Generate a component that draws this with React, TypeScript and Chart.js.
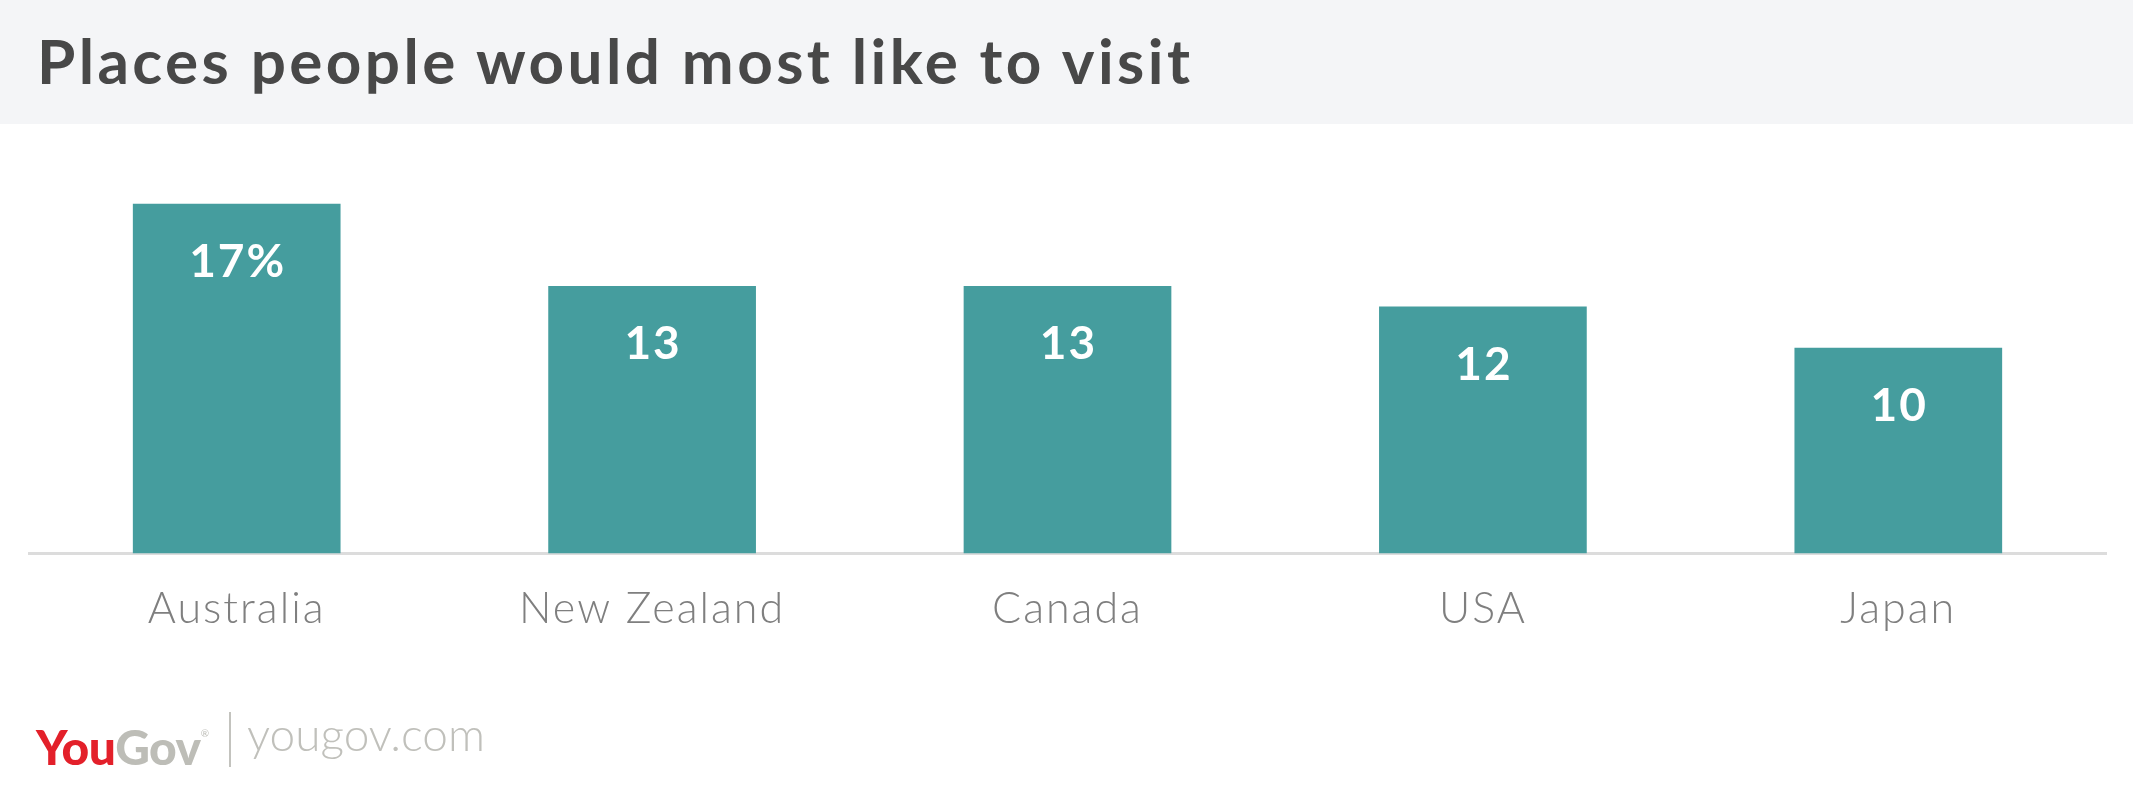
import React, { useEffect, useRef } from "react";
import { Chart, registerables } from "chart.js";

Chart.register(...registerables);

const TITLE = "Places people would most like to visit";
const categories = ["Australia", "New Zealand", "Canada", "USA", "Japan"];
const values = [17, 13, 13, 12, 10];
const valueLabels = ["17%", "13", "13", "12", "10"];
const yMax = 20;

const BAR = "#459d9e";

const letterSpacingPlugin = {
  id: "letterSpacing",
  beforeDraw(chart: any) {
    (chart.ctx as any).letterSpacing = "2px";
  },
};

const valueLabelPlugin = {
  id: "valueLabels",
  afterDatasetsDraw(chart: any) {
    const ctx = chart.ctx;
    const meta = chart.getDatasetMeta(0);
    ctx.save();
    (ctx as any).letterSpacing = "2px";
    ctx.fillStyle = "#ffffff";
    ctx.font = "700 46px Lato";
    ctx.textAlign = "center";
    ctx.textBaseline = "alphabetic";
    meta.data.forEach((bar: any, i: number) => {
      ctx.fillText(valueLabels[i], bar.x + 1, bar.y + 73);
    });
    ctx.restore();
  },
};

export default function App() {
  const ref = useRef<HTMLCanvasElement>(null);
  useEffect(() => {
    if (!ref.current) return;
    const chart = new Chart(ref.current, {
      type: "bar",
      data: {
        labels: categories,
        datasets: [
          {
            data: values,
            backgroundColor: BAR,
            borderWidth: 0,
            barPercentage: 0.5,
            categoryPercentage: 1,
          },
        ],
      },
      options: {
        responsive: false,
        animation: false,
        devicePixelRatio: 1,
        layout: { padding: { left: 29, right: 27, top: 142, bottom: 131 } },
        plugins: {
          legend: { display: false },
          tooltip: { enabled: false },
          title: { display: false },
        },
        scales: {
          x: {
            grid: { display: false, drawTicks: false },
            border: { display: true, color: "#dcdcdc", width: 3 },
            ticks: {
              color: "#7f7f7f",
              font: { family: "Lato", size: 43, weight: 300 },
              padding: 30,
              maxRotation: 0,
            },
          },
          y: { display: false, min: 0, max: yMax },
        },
      },
      plugins: [letterSpacingPlugin, valueLabelPlugin],
    });
    return () => chart.destroy();
  }, []);

  return (
    <div
      style={{
        position: "fixed",
        left: 0,
        top: 0,
        width: 2133,
        height: 796,
        background: "#ffffff",
        overflow: "hidden",
      }}
    >
      <canvas
        ref={ref}
        width={2133}
        height={796}
        style={{ position: "absolute", left: 0, top: 0, width: 2133, height: 796 }}
      />
      <div
        style={{
          position: "absolute",
          left: 0,
          top: 0,
          width: 2133,
          height: 124,
          background: "#f4f5f7",
        }}
      />
      <div
        style={{
          position: "absolute",
          left: 37,
          top: 29,
          fontFamily: "Lato",
          fontWeight: 700,
          fontSize: 62,
          letterSpacing: 3.4,
          color: "#484848",
          lineHeight: "62px",
          whiteSpace: "nowrap",
        }}
      >
        {TITLE}
      </div>
      <div
        style={{
          position: "absolute",
          left: 36,
          top: 753 - 44,
          lineHeight: "48px",
          whiteSpace: "nowrap",
          fontFamily: "Lato",
        }}
      >
        <span style={{ fontWeight: 900, fontSize: 48, color: "#e3202a", letterSpacing: -0.5 }}>You</span>
        <span style={{ fontWeight: 900, fontSize: 48, color: "#bdbdb7", letterSpacing: -0.5 }}>Gov</span>
        <span style={{ fontWeight: 400, fontSize: 10, color: "#bdbdb7", verticalAlign: 28 }}>®</span>
      </div>
      <div
        style={{
          position: "absolute",
          left: 229,
          top: 712,
          width: 2,
          height: 55,
          background: "#c3c3be",
        }}
      />
      <div
        style={{
          position: "absolute",
          left: 247,
          top: 753 - 42,
          lineHeight: "46px",
          whiteSpace: "nowrap",
          fontFamily: "Lato",
          fontWeight: 300,
          fontSize: 46,
          color: "#c0c0bb",
        }}
      >
        yougov.com
      </div>
    </div>
  );
}
